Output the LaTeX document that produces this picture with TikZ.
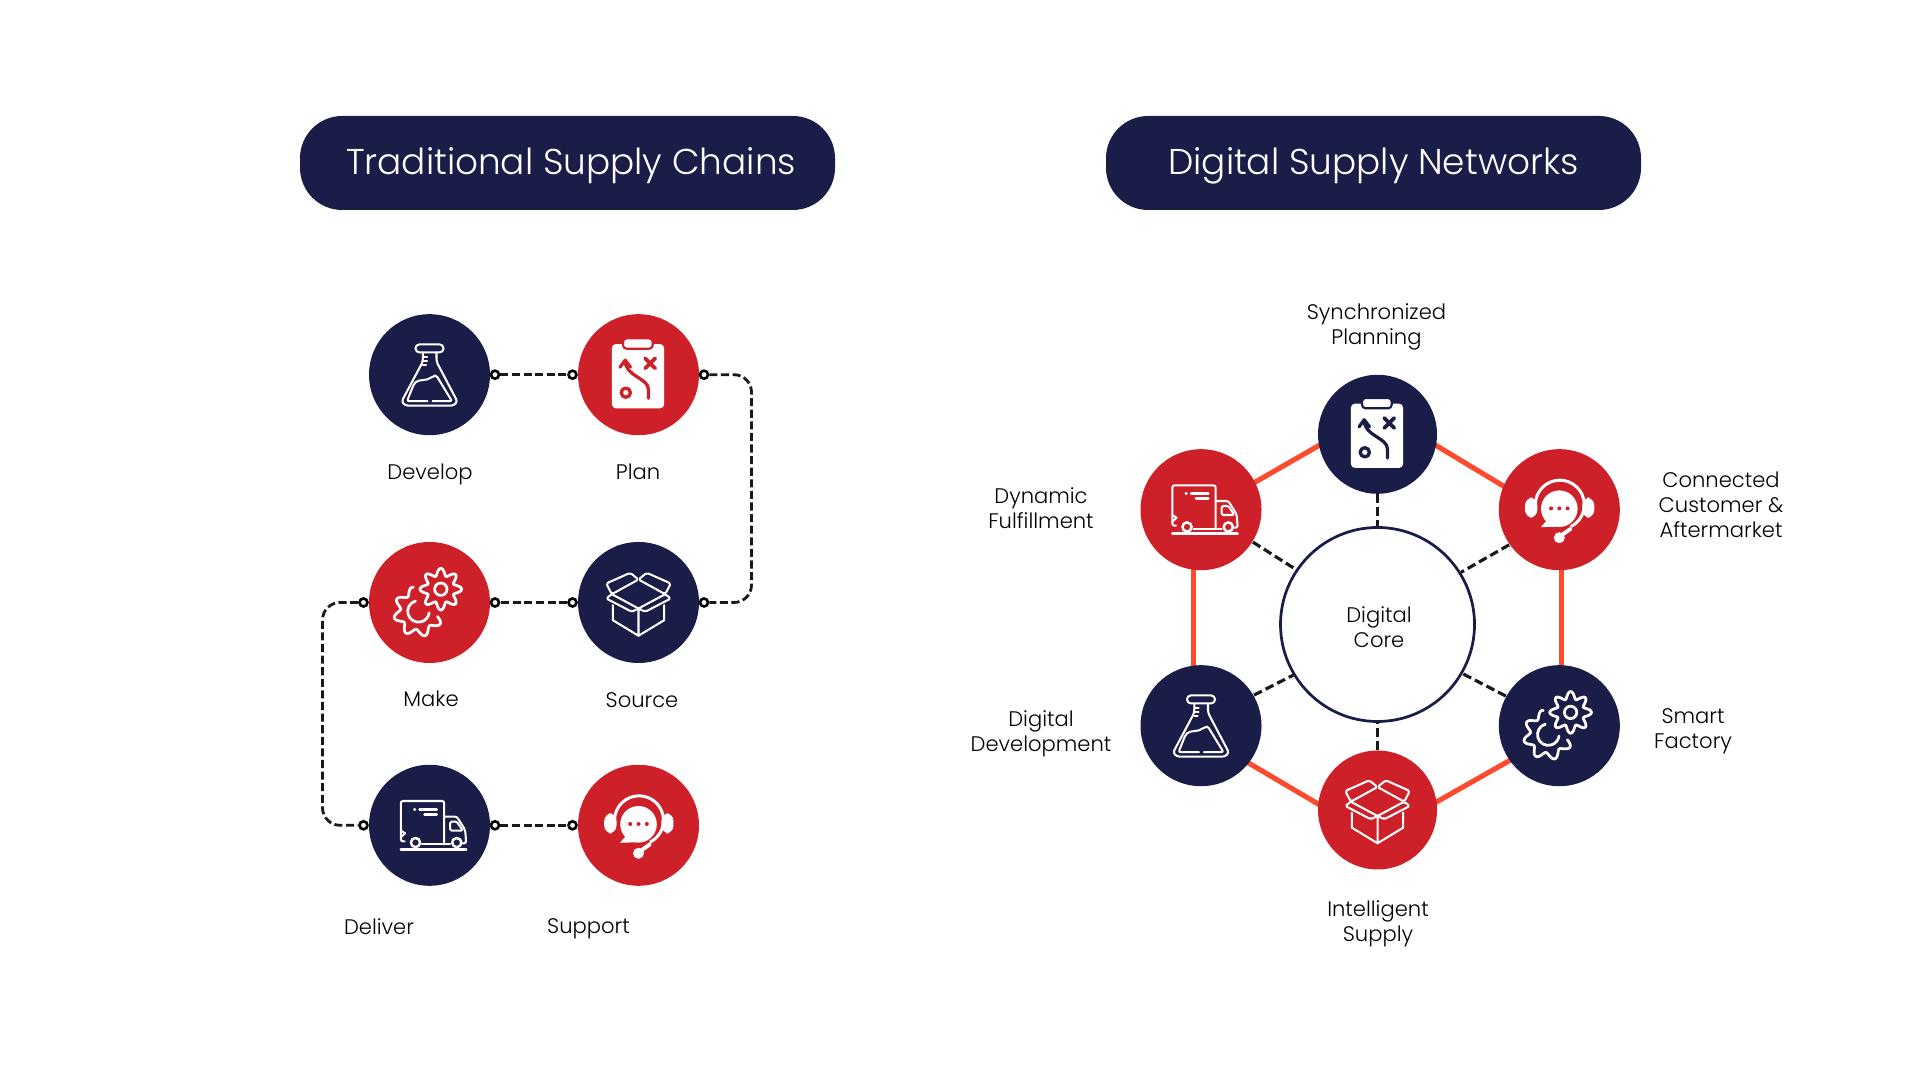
\documentclass[tikz,border=0pt]{standalone}
\usepackage{fontspec}
\setmainfont{Poppins Light}
\usetikzlibrary{positioning, backgrounds}
\definecolor{dnavy}{HTML}{1A1D47}
\definecolor{dred}{HTML}{CE2029}
\definecolor{dorange}{HTML}{FF4A2E}
\tikzset{
  hub/.style={
    circle, fill=#1, draw=none, inner sep=0pt, minimum size=1.21cm
  },
  hub/.default=dnavy,
  pill/.style={
    rounded corners=12pt, fill=dnavy, text=white, font=\fontsize{10.2pt}{12pt}\selectfont,
    minimum width=5.35cm, minimum height=0.94cm, inner sep=0pt
  },
  lab/.style={font=\fontsize{6pt}{7.15pt}\selectfont, text=black, align=center, inner sep=0pt},
  term/.style={
    circle, draw=black, fill=white, line width=0.75pt, inner sep=0pt, minimum size=0.08cm
  },
  chainline/.style={draw=black!90, line width=0.8pt, dash pattern=on 2.3pt off 1pt},
  spoke/.style={draw=black!90, line width=0.9pt, dash pattern=on 2.5pt off 1.2pt},
  rimline/.style={draw=dorange, line width=1.45pt, shorten >=-1pt, shorten <=-1pt},
  icon/.style={x=0.01cm, y=0.01cm, draw=white, line width=0.58pt, line cap=round, line join=round},
  pics/flaskicon/.style={code={
    \draw[rounded corners=1.1pt] (-14,22.3) rectangle (14,30.3);
    \draw[rounded corners=0.8pt] (-6.7,22.3) -- (-6.7,13) -- (-28,-27) -- (-24,-31) -- (24,-31) -- (28,-27) -- (7,13) -- (7,22.3);
    \draw (-6.7,18) -- (-2.5,18) (-6.7,14) -- (-2.5,14) (-6.7,9.7) -- (-3.5,9.7);
    \draw[rounded corners=0.6pt] (-2,-26.5) -- (-22.5,-26.5) -- (-15.5,-9) .. controls (-10,-4) and (-3,-7) .. (4,-1) -- (7,-1) -- (22.5,-26.5) -- (3,-26.5);
  }},
  pics/clipicon/.style={code={
    \fill[white, rounded corners=1.2pt] (-26.7,-33.7) rectangle (25.7,30.7);
    \draw[draw=#1, fill=white, rounded corners=1pt, line width=0.6pt] (-15.5,26) rectangle (14.2,36.3);
    \draw[draw=#1, line width=0.92pt] (10,-23.7) -- (10,-15) .. controls (10,-3) and (-13.3,-2) .. (-13.3,14);
    \draw[draw=#1, line width=0.92pt] (-18.5,7.5) -- (-13.3,14.5) -- (-8,7.5);
    \draw[draw=#1, line width=1.05pt] (6.7,6.3) -- (16.7,16.3) (6.7,16.3) -- (16.7,6.3);
    \draw[draw=#1, line width=0.95pt] (-12.7,-18) circle (4.6);
  }},
  pics/boxicon/.style={code={
    \draw (-25.7,-2.7) -- (-25.7,-17.7) -- (0,-33.3) -- (25.7,-17.7) -- (25.7,-2.7) (0,-6) -- (0,-33.3);
    \draw[rounded corners=0.5pt] (-32.3,19) -- (-8.3,29.7) -- (0,23) -- (-26.7,8.3) -- cycle;
    \draw[rounded corners=0.5pt] (32.3,19) -- (8.3,29.7) -- (0,23) -- (26.7,8.3) -- cycle;
    \draw[rounded corners=0.5pt] (-26.7,8.3) -- (-32.3,4) -- (-6.7,-9.3) -- (0,-6) -- (6.7,-9.3) -- (32.3,4) -- (26.7,8.3) -- (0,-6);
    \draw (-26.7,8.3) -- (0,-6);
  }},
  pics/gearicon/.style={code={
    \draw[line width=0.78pt] plot[smooth, domain=0:360, samples=97]
      ({11.3+(17.3+3.6*cos(8*\x))*cos(\x)}, {13.3+(17.3+3.6*cos(8*\x))*sin(\x)}) -- cycle;
    \draw[line width=0.78pt] (11.3,13.3) circle (6.2);
    \draw[line width=0.78pt] plot[smooth, domain=102:345, samples=65]
      ({-11+(21.5+3.6*cos(8*(\x-15)))*cos(\x)}, {-9+(21.5+3.6*cos(8*(\x-15)))*sin(\x)});
    \draw[line width=0.78pt] (-14,1.5) arc (106:352:10.8);
  }},
  pics/truckicon/.style={code={
    \draw[rounded corners=0.6pt] (-25,-16) -- (-28.7,-16) -- (-28.7,24.3) -- (14.7,24.3) -- (14.7,-19);
    \draw (-7.7,-19) -- (20.7,-19);
    \draw[rounded corners=0.6pt] (14.7,8.7) -- (27.3,8.7) -- (35.7,-4.7) -- (36.7,-18) -- (33,-18);
    \draw[rounded corners=0.4pt] (20.7,3.7) -- (27.3,3.7) -- (33.3,-5.3) -- (20.7,-5.3) -- cycle;
    \draw[line width=0.7pt] (-14,-17.3) circle (4.6) (27.3,-17.3) circle (4.6);
    \draw[line width=0.7pt] (-28.7,-24) -- (36.7,-24);
    \draw (-28.7,-5.3) -- (-24.5,-8) -- (-28.7,-12);
    \draw[line width=0.7pt] (-15.2,16) -- (-14.5,16) (-10,16) -- (7.3,16) (-5,11) -- (7.3,11);
  }},
  pics/headseticon/.style={code={
    \fill[white, rounded corners=2.2pt] (-34.3,-8) rectangle (-22,12);
    \fill[white, rounded corners=2.2pt] (23,-8) rectangle (35,12);
    \draw[line width=0.85pt] (-24,5) arc (180:-62:24.5);
    \draw[line width=1.1pt] (11.3,-19.2) -- (0,-27);
    \fill[white] (0,-28) circle (5.5);
    \fill[white] (0,1) circle (18.3);
    \fill[white] (-12,-10) -- (-18.5,-17.5) -- (-2,-17) -- cycle;
    \fill[#1] (-8.3,1.3) circle (2) (0,1.3) circle (2) (8.3,1.3) circle (2);
  }}
}
\begin{document}
\begin{tikzpicture}
  \useasboundingbox (0,0) rectangle (19.2,10.8);

  % headers
  \node[pill] (trad) at (5.675,9.17) {\hspace*{2pt}\raisebox{-0.7pt}[\height][\depth]{Traditional Supply Chains}};
  \node[pill] (digi) at (13.735,9.17) {\raisebox{-0.7pt}[\height][\depth]{Digital Supply Networks}};

  % left chain
  \node[hub=dnavy] (develop) at (4.295,7.053) {};
  \node[hub=dred] (plan) at (6.385,7.053) {};
  \node[hub=dred] (make) at (4.295,4.775) {};
  \node[hub=dnavy] (source) at (6.385,4.775) {};
  \node[hub=dnavy] (deliver) at (4.295,2.547) {};
  \node[hub=dred] (support) at (6.385,2.547) {};

  \node[term] (developr) at (4.95,7.053) {};
  \node[term] (planl) at (5.725,7.053) {};
  \node[term] (planr) at (7.04,7.053) {};
  \node[term] (sourcer) at (7.04,4.775) {};
  \node[term] (sourcel) at (5.725,4.775) {};
  \node[term] (maker) at (4.95,4.775) {};
  \node[term] (makel) at (3.635,4.775) {};
  \node[term] (deliverl) at (3.635,2.547) {};
  \node[term] (deliverr) at (4.95,2.547) {};
  \node[term] (supportl) at (5.725,2.547) {};

  \coordinate (bendr) at (7.515,6);
  \coordinate (bendl) at (3.225,3.6);

  \draw[chainline] (developr) -- (planl);
  \draw[chainline, rounded corners=5pt] (planr) -| (bendr) |- (sourcer);
  \draw[chainline] (sourcel) -- (maker);
  \draw[chainline, rounded corners=5pt] (makel) -| (bendl) |- (deliverl);
  \draw[chainline] (deliverr) -- (supportl);

  \node[lab] (developlab) at (4.30,6.058) {Develop};
  \node[lab] (planlab) at (6.38,6.082) {Plan};
  \node[lab] (makelab) at (4.31,3.812) {Make};
  \node[lab] (sourcelab) at (6.42,3.802) {Source};
  \node[lab] (deliverlab) at (3.79,1.532) {Deliver};
  \node[lab] (supportlab) at (5.885,1.508) {Support};

  % right network
  \node[circle, draw=dnavy, fill=white, line width=0.78pt, inner sep=0pt, minimum size=1.94cm] (core) at (13.775,4.555) {};
  \node[lab] (corelab) at (13.79,4.53) {Digital\\Core};
  \node[hub=dnavy, minimum size=1.19cm] (synplan) at (13.775,6.457) {};
  \node[hub=dred] (fulfil) at (12.01,5.703) {};
  \node[hub=dred] (customer) at (15.593,5.703) {};
  \node[hub=dnavy] (digidev) at (12.01,3.543) {};
  \node[hub=dnavy] (factory) at (15.593,3.543) {};
  \node[hub=dred, minimum size=1.19cm] (intsupply) at (13.775,2.70) {};

  \begin{scope}[on background layer]
    \draw[rimline] (fulfil.27) -- (synplan.191);
    \draw[rimline] (synplan.-11) -- (customer.157);
    \draw[rimline] (customer.-88) -- (factory.88);
    \draw[rimline] (factory.215) -- (intsupply.8);
    \draw[rimline] (intsupply.174) -- (digidev.-38);
    \draw[rimline] (digidev.97) -- (fulfil.263);
  \end{scope}

  \draw[spoke] (synplan.south) -- (core.north);
  \draw[spoke] (customer.215) -- (core.32);
  \draw[spoke] (factory.151) -- (core.-30);
  \draw[spoke] (intsupply.north) -- (core.south);
  \draw[spoke] (digidev.30) -- (core.211);
  \draw[spoke] (fulfil.-32) -- (core.146);

  \node[lab] (synlab) at (13.765,7.535) {Synchronized\\Planning};
  \node[lab] (fulfillab) at (10.41,5.715) {Dynamic\\Fulfillment};
  \node[lab] (customerlab) at (17.21,5.75) {Connected\\Customer \&\\Aftermarket};
  \node[lab] (digidevlab) at (10.41,3.46) {Digital\\Development};
  \node[lab] (factorylab) at (16.93,3.49) {Smart\\Factory};
  \node[lab] (intlab) at (13.78,1.565) {Intelligent\\Supply};

  % icons
  \pic[icon] at (develop) {flaskicon};
  \pic[icon] at (plan) {clipicon=dred};
  \pic[icon] at (make) {gearicon};
  \pic[icon] at (source) {boxicon};
  \pic[icon] at (deliver) {truckicon};
  \pic[icon] at (support) {headseticon=dred};
  \pic[icon] at (synplan) {clipicon=dnavy};
  \pic[icon] at (fulfil) {truckicon};
  \pic[icon] at (customer) {headseticon=dred};
  \pic[icon] at (digidev) {flaskicon};
  \pic[icon] at (factory) {gearicon};
  \pic[icon] at (intsupply) {boxicon};
\end{tikzpicture}
\end{document}
